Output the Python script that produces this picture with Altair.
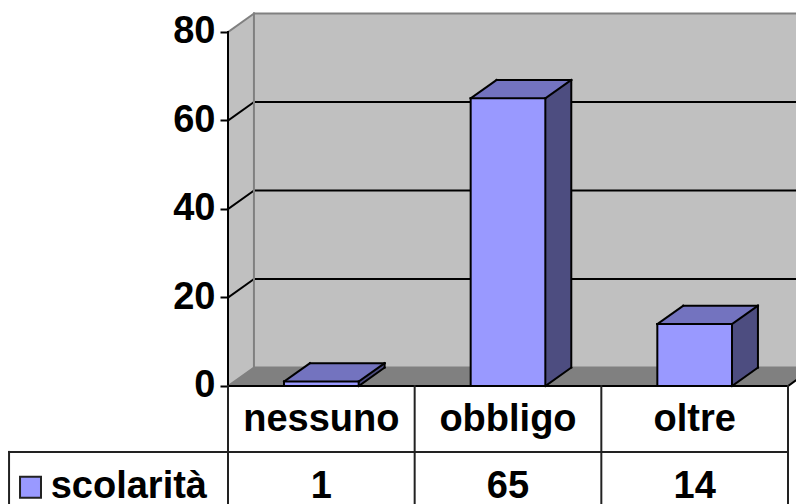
import altair as alt
import pandas as pd

categories = ["nessuno", "obbligo", "oltre"]
values = [1, 65, 14]
series_name = "scolarità"
y_ticks = [0, 20, 40, 60, 80]

# Data-space layout (x in category widths, y in value units)
X_MIN, X_MAX = -1.1786, 3.0429
Y_MIN, Y_MAX = -26.67, 85.42
DX, DY = 0.139, 4.15          # 3D depth
BAR_W = 0.4
AXIS_TOP = 80
ROW1 = -14.9                  # bottom of category row
LEFT = -1.173                 # left edge of table
FS = 38

WALL, FLOOR = "#C0C0C0", "#808080"
FRONT, TOP, SIDE = "#9999FF", "#7373BF", "#4D4D80"

xs = alt.Scale(domain=[X_MIN, X_MAX], nice=False, zero=False)
ys = alt.Scale(domain=[Y_MIN, Y_MAX], nice=False, zero=False)
X = alt.X("x:Q", scale=xs, axis=None)
Y = alt.Y("y:Q", scale=ys, axis=alt.Axis(
    values=y_ticks, orient="left", offset=-220, domain=False, grid=False, title=None,
    tickSize=8, tickWidth=2, tickColor="black", labelPadding=5,
    labelFont="Liberation Sans", labelFontWeight="bold", labelFontSize=FS, labelColor="black"))
n = len(categories)


def rules(segs, color, width, clip=False):
    df = pd.DataFrame(segs, columns=["x", "x2", "y", "y2"])
    return alt.Chart(df).mark_rule(color=color, strokeWidth=width, strokeCap="square", clip=clip).encode(
        x=X, x2="x2:Q", y=Y, y2="y2:Q")


def vpar(x0, x1, y_bot, y_top, color):
    """Vertical-edged parallelogram: receding to the right by DX, DY."""
    df = pd.DataFrame({"x": [x0, x1], "y": [y_bot, y_bot + DY], "y2": [y_top, y_top + DY]})
    return alt.Chart(df).mark_area(color=color, clip=True).encode(x=X, y=Y, y2="y2:Q")


def hpar(x0, x1, y0, color):
    """Horizontal-edged parallelogram receding to the right by DX, DY."""
    df = pd.DataFrame({"y": [y0, y0 + DY], "x": [x0, x0 + DX], "x2": [x1, x1 + DX]})
    return alt.Chart(df).mark_area(color=color, clip=True, orient="horizontal").encode(y=Y, x=X, x2="x2:Q")


layers = []
# back wall, side wall, floor
layers.append(alt.Chart(pd.DataFrame({"x": [DX], "x2": [n + DX], "y": [DY], "y2": [AXIS_TOP + DY]}))
              .mark_rect(color=WALL, clip=True).encode(x=X, x2="x2:Q", y=Y, y2="y2:Q"))
layers.append(vpar(0, DX, 0, AXIS_TOP, WALL))
layers.append(hpar(0, n, 0, FLOOR))

# gridlines
grid = []
for t in y_ticks[1:-1]:
    grid.append([0, DX, t, t + DY])
    grid.append([DX, n + DX, t + DY, t + DY])
layers.append(rules(grid, "black", 2, clip=True))

# gray wall edges
layers.append(rules([
    [DX, DX, DY, AXIS_TOP + DY],
    [0, DX, AXIS_TOP, AXIS_TOP + DY],
    [DX, n + DX, AXIS_TOP + DY, AXIS_TOP + DY],
    [0, DX, 0, DY],
    [DX, n + DX, DY, DY],
], FLOOR, 2, clip=True))

# bars
outline = []
for i, v in enumerate(values):
    x0 = i + 0.5 - BAR_W / 2
    x1 = i + 0.5 + BAR_W / 2
    layers.append(alt.Chart(pd.DataFrame({"x": [x0], "x2": [x1], "y": [0], "y2": [v]}))
                  .mark_rect(color=FRONT).encode(x=X, x2="x2:Q", y=Y, y2="y2:Q"))
    layers.append(hpar(x0, x1, v, TOP))
    layers.append(vpar(x1, x1 + DX, 0, v, SIDE))
    outline += [
        [x0, x1, 0, 0], [x0, x1, v, v], [x0, x0, 0, v], [x1, x1, 0, v],
        [x0, x0 + DX, v, v + DY], [x1, x1 + DX, v, v + DY], [x1, x1 + DX, 0, DY],
        [x0 + DX, x1 + DX, v + DY, v + DY], [x1 + DX, x1 + DX, DY, v + DY],
    ]
layers.append(rules(outline, "black", 2))

# front axis + floor front/right edges
layers.append(rules([
    [0, 0, 0, AXIS_TOP],
    [0, n, 0, 0],
    [n, n + DX, 0, DY],
], "black", 2, clip=True))

# data table
table = [[LEFT, n, ROW1, ROW1], [LEFT, LEFT, ROW1, Y_MIN]]
for i in range(n + 1):
    table.append([i, i, 0, Y_MIN])
layers.append(rules(table, "#222222", 2))

txt = alt.Chart(pd.DataFrame({
    "x": [i + 0.5 for i in range(n)] * 2,
    "y": [-7.6] * n + [-22.9] * n,
    "t": categories + [str(v) for v in values],
})).mark_text(font="Liberation Sans", fontWeight="bold", fontSize=FS, color="black", baseline="middle").encode(
    x=X, y=Y, text="t:N")
layers.append(txt)

layers.append(alt.Chart(pd.DataFrame({"x": [-0.95], "y": [-22.9], "t": [series_name]}))
              .mark_text(font="Liberation Sans", fontWeight="bold", fontSize=FS, color="black",
                         baseline="middle", align="left").encode(x=X, y=Y, text="t:N"))
layers.append(alt.Chart(pd.DataFrame({"x": [-1.058], "y": [-22.9]}))
              .mark_point(shape="square", filled=True, fill=FRONT, stroke="#222222", strokeWidth=2,
                          opacity=1, size=440).encode(x=X, y=Y))

chart = alt.layer(*layers).properties(
    width=788, height=496, padding=0, autosize=alt.AutoSizeParams(type="none"),
    background="white",
).configure_view(stroke=None)

chart.save("out.html", embed_options={"renderer": "svg", "actions": False})
